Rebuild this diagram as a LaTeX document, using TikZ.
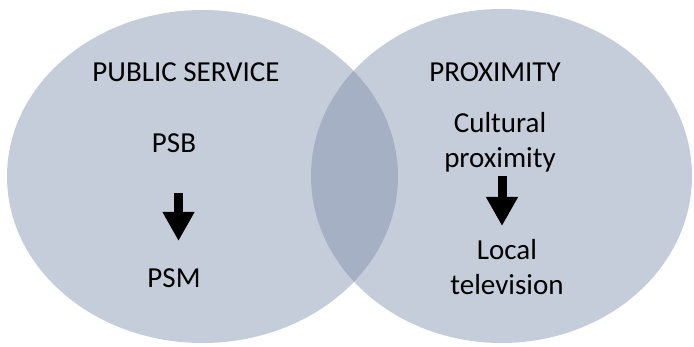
\documentclass[tikz,border=0pt]{standalone}
\usepackage{fontspec}
\setmainfont{Carlito}
\usetikzlibrary{arrows.meta, positioning}
\definecolor{SetFill}{RGB}{119,136,167}

\begin{document}
\begin{tikzpicture}[x=1pt, y=1pt,
    setarea/.style={fill=SetFill, fill opacity=0.42},
    heading/.style={font=\fontsize{29}{35}\selectfont, anchor=base, inner sep=0pt},
    term/.style={font=\fontsize{29}{35}\selectfont, align=center, inner sep=0pt},
    blockarr/.style={-{Triangle[width=30pt, length=29pt]}, line width=9pt, black}
]
\useasboundingbox (0,0) rectangle (694,346);

% ===================================================================
% THE TWO SETS
% ===================================================================
\fill[setarea] (202.5,169.5) ellipse [x radius=195.5, y radius=166.5];
\fill[setarea] (501.5,170) ellipse [x radius=190.5, y radius=167];

% ===================================================================
% PUBLIC SERVICE (left set)
% ===================================================================
\node[heading] (pubhead) at (186,264) {PUBLIC SERVICE};
\node[heading] (psb) at (174,193) {PSB};
\node[heading] (psm) at (174,59) {PSM};

\draw[blockarr, shorten <=40pt, shorten >=27pt]
    ([xshift=4.5pt]psb.south) -- ([xshift=4.5pt]psm.north);

% ===================================================================
% PROXIMITY (right set)
% ===================================================================
\node[heading] (proxhead) at (495,264) {PROXIMITY};
\node[term, anchor=north] (cultural) at (500,234) {Cultural\\proximity};
\node[term, anchor=north] (localtv) at (507,107) {Local\\television};

\draw[blockarr, shorten <=4pt, shorten >=13pt]
    ([xshift=2pt]cultural.south) -- ([xshift=-5pt]localtv.north);

\end{tikzpicture}
\end{document}
